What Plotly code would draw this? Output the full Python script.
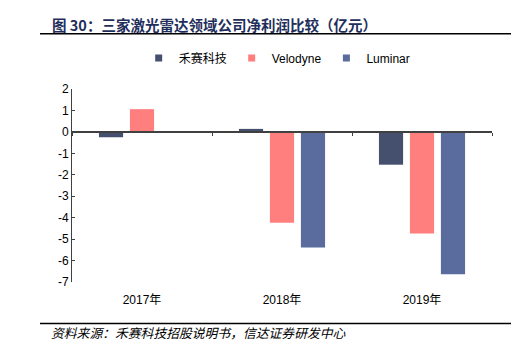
import plotly.graph_objects as go

years = ["2017年", "2018年", "2019年"]
hesai = [-0.25, 0.14, -1.53]
velodyne = [1.06, -4.24, -4.74]
luminar = [None, -5.39, -6.64]
series_names = ["禾赛科技", "Velodyne", "Luminar"]
colors = ["#454F6E", "#FF7F7F", "#5A6C9E"]
y_ticks = [2, 1, 0, -1, -2, -3, -4, -5, -6, -7]
y_ticklabels = ["2", "1", "0", "-1", "-2", "-3", "-4", "-5", "-6", "-7"]

title_text = "图 30：三家激光雷达领域公司净利润比较（亿元）"
source_text = "资料来源：禾赛科技招股说明书，信达证券研发中心"

FONT = "Liberation Sans, Arial, Noto Sans CJK SC, sans-serif"

fig = go.Figure()
for name, vals, c in zip(series_names, [hesai, velodyne, luminar], colors):
    fig.add_trace(go.Bar(x=years, y=vals, name=name, marker=dict(color=c, line=dict(width=0)),
                         showlegend=False))
    fig.add_trace(go.Scatter(x=[None], y=[None], mode="markers", name=name,
                             marker=dict(symbol="square", size=7, color=c)))

# axis line at zero with boundary ticks
fig.add_trace(go.Scatter(x=years, y=[None, None, None], xaxis="x2", showlegend=False,
                         hoverinfo="skip"))

fig.update_layout(
    width=521, height=356,
    margin=dict(l=72, r=29, t=89, b=74, autoexpand=False),
    paper_bgcolor="white", plot_bgcolor="white",
    barmode="group", bargap=0.336, bargroupgap=0.22,
    font=dict(family=FONT, size=12, color="#000000"),
    xaxis=dict(type="category", categoryarray=years, showline=False, showgrid=False,
               zeroline=False, ticks="outside", ticklen=7, tickcolor="rgba(0,0,0,0)",
               tickfont=dict(size=12, family=FONT), range=[-0.5, 2.5], automargin=False),
    xaxis2=dict(type="category", categoryarray=years, overlaying="x", anchor="free",
                position=7 / 9, showline=True, linecolor="#404040", linewidth=1.5,
                ticks="outside", tickson="boundaries", ticklen=3, tickcolor="#404040",
                showticklabels=False, showgrid=False, zeroline=False, range=[-0.5, 2.5],
                automargin=False),
    yaxis=dict(range=[-7, 2], tickvals=y_ticks, ticktext=y_ticklabels, showgrid=False,
               zeroline=False, showline=True, linecolor="#404040", linewidth=1,
               ticks="inside", ticklen=3, tickcolor="#404040",
               tickfont=dict(size=12, family=FONT), automargin=False),
    legend=dict(orientation="h", xref="container", x=0.532, xanchor="center",
                yref="container", y=1 - 58 / 356, yanchor="middle",
                font=dict(size=12, family=FONT), itemwidth=30, traceorder="normal",
                bgcolor="rgba(0,0,0,0)"),
)

fig.add_annotation(text="<b>" + title_text + "</b>", xref="paper", yref="paper",
                   x=(50 - 72) / 420, xanchor="left",
                   y=1 + (89 - 25) / 192.4, yanchor="middle", showarrow=False,
                   font=dict(size=14.5, color="#1F2F5C", family="Noto Sans CJK SC"))
fig.add_annotation(text="<i>" + source_text + "</i>", xref="paper", yref="paper",
                   x=(49 - 72) / 420, xanchor="left",
                   y=-(332 - 281.7) / 192.4, yanchor="middle", showarrow=False,
                   font=dict(size=12.8, color="#000000", family="Noto Sans CJK SC"))

# separator lines (decorations)
fig.add_shape(type="line", xref="paper", yref="paper",
              x0=(40 - 72) / 420, x1=(511 - 72) / 420,
              y0=1 + (89 - 34) / 192.4, y1=1 + (89 - 34) / 192.4,
              line=dict(color="#000000", width=1.5))
fig.add_shape(type="line", xref="paper", yref="paper",
              x0=(40 - 72) / 420, x1=(511 - 72) / 420,
              y0=-(323 - 281.7) / 192.4, y1=-(323 - 281.7) / 192.4,
              line=dict(color="#000000", width=1.5))

fig.write_html("out.html", config={"displayModeBar": False},
               post_script="document.body.style.margin='0';document.body.style.overflow='hidden';")
